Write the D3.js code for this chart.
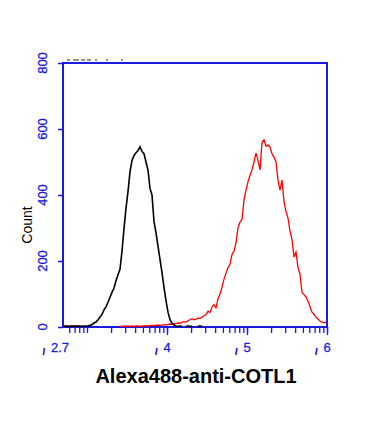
<!DOCTYPE html>
<html>
<head>
<meta charset="utf-8">
<script src="https://cdn.jsdelivr.net/npm/d3@7"></script>
<style>
  html, body { margin: 0; padding: 0; background: #ffffff; }
  svg { display: block; }
  text { font-family: "Liberation Sans", Arial, sans-serif; }
</style>
</head>
<body>
<svg id="chart" width="391" height="436"></svg>
<script>
// ---- data (log10 fluorescence channels, 0.025 decade per bin, from 10^2.7) ----
const binStart = 2.7;
const binWidth = 0.025;

// control (black) histogram counts per bin, starting at 10^2.7
const blackCounts = [
  2, 3, 2, 2, 3, 2, 3, 2, 3, 2, 3, 3,
  3, 5, 7, 12, 15, 22, 30, 38, 52, 61, 75, 90, 105, 118, 140, 158, 175,
  230, 298, 360, 410, 470, 505, 520, 528, 535, 546, 532, 525, 500, 475,
  420, 400, 320, 285, 245, 205, 165, 120, 80, 45, 22, 12, 6,
  3, 2, 3, 2, 0, 2, 3, 2, 2, 0, 0, 2, 3, 2
];

// Alexa488-anti-COTL1 (red) histogram counts per bin, starting at 10^2.7
const redCounts = [
  2, 3, 2, 2, 3, 2, 2, 3, 2,
  0, 0, 0, 0, 0, 0, 0, 0, 0, 0, 0, 0, 0, 0, 0, 0, 0, 0, 0,
  2, 2, 3, 2, 3, 2, 3, 2, 3, 3, 2, 3, 3, 4, 3, 4, 5, 4, 5, 6,
  5, 6, 7, 6, 8, 9, 8, 11, 10, 12, 11, 14, 16, 15, 19, 22, 25, 22, 24, 27,
  26, 30, 34, 37, 48, 44, 60, 68, 58, 85, 100, 120, 145, 164, 180, 190,
  220, 230, 255, 300, 318, 325, 385, 415, 440, 460, 476, 500, 527, 505,
  476, 560, 567, 548, 552, 545, 525, 515, 500, 445, 415, 445, 380, 350,
  330, 290, 265, 212, 227, 180, 160, 105, 98, 91, 78, 62, 45, 38, 30,
  24, 18, 15, 13, 15
];

const yTicks = [0, 200, 400, 600, 800];
const xMajorTicks = [2.7, 4, 5, 6];
const xMajorLabels = ["2.7", "4", "5", "6"];
const xTitle = "Alexa488-anti-COTL1";
const yTitle = "Count";

// ---- layout ----
const svg = d3.select("#chart");
const pL = 63, pR = 327, pT = 63, pB = 327;
const blue = "#1a1ae0";

const x = d3.scaleLinear().domain([2.7, 6]).range([pL, pR]);
const y = d3.scaleLinear().domain([0, 800]).range([pB, pT]);

// minor log ticks
const xMinor = [];
for (let dec = 2; dec <= 5; dec++) {
  for (let m = 1; m <= 9; m++) {
    const v = dec + Math.log10(m);
    if (v >= 2.7 - 1e-9 && v <= 6 + 1e-9) xMinor.push(v);
  }
}
xMinor.push(6);

// ---- frame ----
svg.append("rect")
  .attr("x", pL).attr("y", pT)
  .attr("width", pR - pL).attr("height", pB - pT)
  .attr("fill", "none").attr("stroke", blue).attr("stroke-width", 2);

// dashed fragment above frame (clipped header in original)
svg.append("line")
  .attr("x1", 67).attr("x2", 133).attr("y1", 60).attr("y2", 60)
  .attr("stroke", "#222").attr("stroke-width", 1)
  .attr("stroke-dasharray", "3,3,6,2,4,2,4,4,2,9,2,13,2,20");

// y axis
const yAxis = d3.axisLeft(y).tickValues(yTicks).tickSize(5).tickFormat("");
const gy = svg.append("g").attr("transform", `translate(${pL},0)`).call(yAxis);
gy.select(".domain").remove();
gy.selectAll("line").attr("stroke", blue).attr("stroke-width", 1.5);
yTicks.forEach(t => {
  svg.append("text")
    .attr("transform", `translate(47,${y(t)}) rotate(-90)`)
    .attr("text-anchor", "middle")
    .attr("font-size", 13)
    .attr("fill", blue)
    .attr("stroke", blue).attr("stroke-width", 0.3)
    .text(t);
});

// x axis ticks
const gx = svg.append("g").attr("transform", `translate(0,${pB})`);
gx.call(d3.axisBottom(x).tickValues(xMinor).tickSize(6).tickFormat(""));
gx.select(".domain").remove();
gx.selectAll("line").attr("stroke", blue).attr("stroke-width", 1.3);
const gx2 = svg.append("g").attr("transform", `translate(0,${pB})`);
gx2.call(d3.axisBottom(x).tickValues(xMajorTicks.slice(1)).tickSize(8).tickFormat(""));
gx2.select(".domain").remove();
gx2.selectAll("line").attr("stroke", blue).attr("stroke-width", 1.3);

// x labels with the little leading mark of the original
xMajorTicks.forEach((t, i) => {
  const lab = xMajorLabels[i];
  const cx = x(t) - (lab.length > 1 ? 3 : 0);
  const txt = svg.append("text")
    .attr("x", cx).attr("y", 352)
    .attr("text-anchor", "middle")
    .attr("font-size", 13)
    .attr("fill", blue)
    .attr("stroke", blue).attr("stroke-width", 0.3)
    .text(lab);
  const w = txt.node().getComputedTextLength();
  const mx = cx - w / 2 - 7;
  svg.append("line")
    .attr("x1", mx + 0.5).attr("y1", 348).attr("x2", mx - 0.5).attr("y2", 355)
    .attr("stroke", blue).attr("stroke-width", 1.6);
});

// ---- histograms ----
function toPoints(counts) {
  return counts.map((c, i) => ({ v: binStart + (i + 0.5) * binWidth, c }));
}
const line = d3.line()
  .defined(d => d.c > 0)
  .x(d => x(d.v))
  .y(d => y(d.c));

svg.append("path")
  .datum(toPoints(redCounts))
  .attr("d", line)
  .attr("fill", "none")
  .attr("stroke", "#ff0000")
  .attr("stroke-width", 1.3);

svg.append("path")
  .datum(toPoints(blackCounts))
  .attr("d", line)
  .attr("fill", "none")
  .attr("stroke", "#000")
  .attr("stroke-width", 1.6);

// ---- titles ----
svg.append("text")
  .attr("x", 196).attr("y", 383)
  .attr("text-anchor", "middle")
  .attr("font-size", 20)
  .attr("font-weight", "bold")
  .attr("fill", "#000")
  .text(xTitle);

svg.append("text")
  .attr("transform", "translate(32,225) rotate(-90)")
  .attr("text-anchor", "middle")
  .attr("font-size", 14)
  .attr("fill", "#000")
  .text(yTitle);
</script>
</body>
</html>
